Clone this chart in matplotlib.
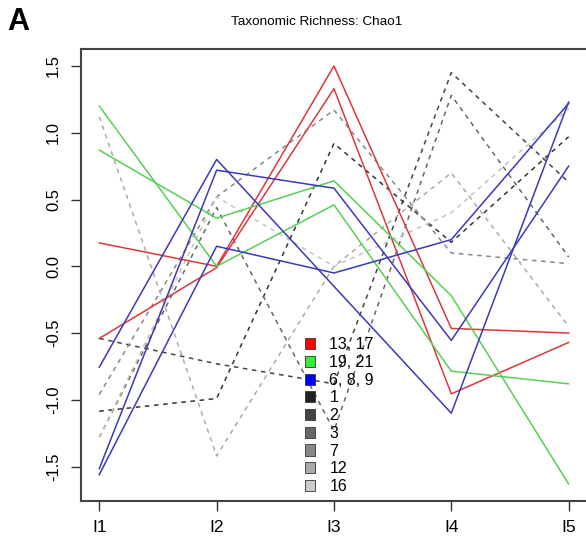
import matplotlib
matplotlib.use('Agg')
import matplotlib.pyplot as plt
from matplotlib.patches import Patch

plt.rcParams['font.family'] = ['Liberation Sans', 'DejaVu Sans']

# sampling points on the x axis
points = ['I1', 'I2', 'I3', 'I4', 'I5']

# chao1 richness (scaled) for each group
s13 = [0.175, 0.0, 1.50, -0.465, -0.50]
s17 = [-0.54, -0.01, 1.33, -0.955, -0.57]
s19 = [1.20, 0.0, 0.46, -0.785, -0.88]
s21 = [0.87, 0.36, 0.64, -0.22, -1.63]
s6 = [-0.755, 0.80, -0.15, -1.10, 1.23]
s8 = [-1.515, 0.72, 0.585, -0.555, 0.75]
s9 = [-1.56, 0.15, -0.05, 0.20, 1.22]
s1 = [-1.085, -0.99, 0.92, 0.18, 0.97]
s2 = [-0.54, -0.73, -0.88, 1.45, 0.63]
s3 = [-1.28, 0.44, -1.23, 1.28, 0.07]
s7 = [-0.96, 0.52, 1.17, 0.10, 0.02]
s12 = [1.12, -1.42, 0.0, 0.70, -0.45]
s16 = [-1.28, 0.52, 0.0, 0.40, 1.18]

legend_labels = ['13, 17', '19, 21', '6, 8, 9', '1', '2', '3', '7', '12', '16']
legend_colors = ['#ff0000', '#33ee33', '#0000ff', '#222222', '#444444',
                 '#666666', '#888888', '#aaaaaa', '#cccccc']

RED = '#dd3838'
GREEN = '#55d055'
BLUE = '#3a3ab8'

fig = plt.figure(figsize=(5.86, 5.41), dpi=100)
ax = fig.add_axes([0.1374, 0.0745, 0.8650, 0.8344])

x = list(range(1, len(points) + 1))

# grey groups are dashed
for vals, col in [(s1, '#333333'), (s2, '#444444'), (s3, '#666666'),
                  (s7, '#888888'), (s12, '#aaaaaa'), (s16, '#c4c4c4')]:
    ax.plot(x, vals, color=col, lw=1.1, ls=(0, (3, 3)))

for vals in (s13, s17):
    ax.plot(x, vals, color=RED, lw=1.1)
for vals in (s19, s21):
    ax.plot(x, vals, color=GREEN, lw=1.1)
for vals in (s6, s8, s9):
    ax.plot(x, vals, color=BLUE, lw=1.1)

ax.set_xlim(0.84, 5.16)
ax.set_ylim(-1.755, 1.625)
ax.set_xticks(x)
ax.set_xticklabels(points, fontsize=12.5)
ax.set_yticks([-1.5, -1.0, -0.5, 0.0, 0.5, 1.0, 1.5])
ax.set_yticklabels(['-1.5', '-1.0', '-0.5', '0.0', '0.5', '1.0', '1.5'], fontsize=12)
ax.tick_params(axis='y', labelrotation=90)
for lab in ax.get_yticklabels():
    lab.set_va('center')
ax.tick_params(length=7, width=1, color='#333333', pad=7)
for sp in ax.spines.values():
    sp.set_color('#444444')
    sp.set_linewidth(1.5)

handles = [Patch(facecolor=c, edgecolor='#333333', lw=0.6) for c in legend_colors]
ax.legend(handles, legend_labels, loc='upper left', bbox_to_anchor=(0.4435, 0.362),
          frameon=False, fontsize=11.5,
          handlelength=0.6, handleheight=0.7, handletextpad=0.9,
          labelspacing=0.17, borderpad=0, borderaxespad=0)

fig.text(0.541, 0.960, 'Taxonomic Richness: Chao1', ha='center', va='center', fontsize=9.7)
fig.text(0.013, 0.960, 'A', ha='left', va='center', fontsize=22, fontweight='bold')

fig.savefig('out.png', dpi=100)
